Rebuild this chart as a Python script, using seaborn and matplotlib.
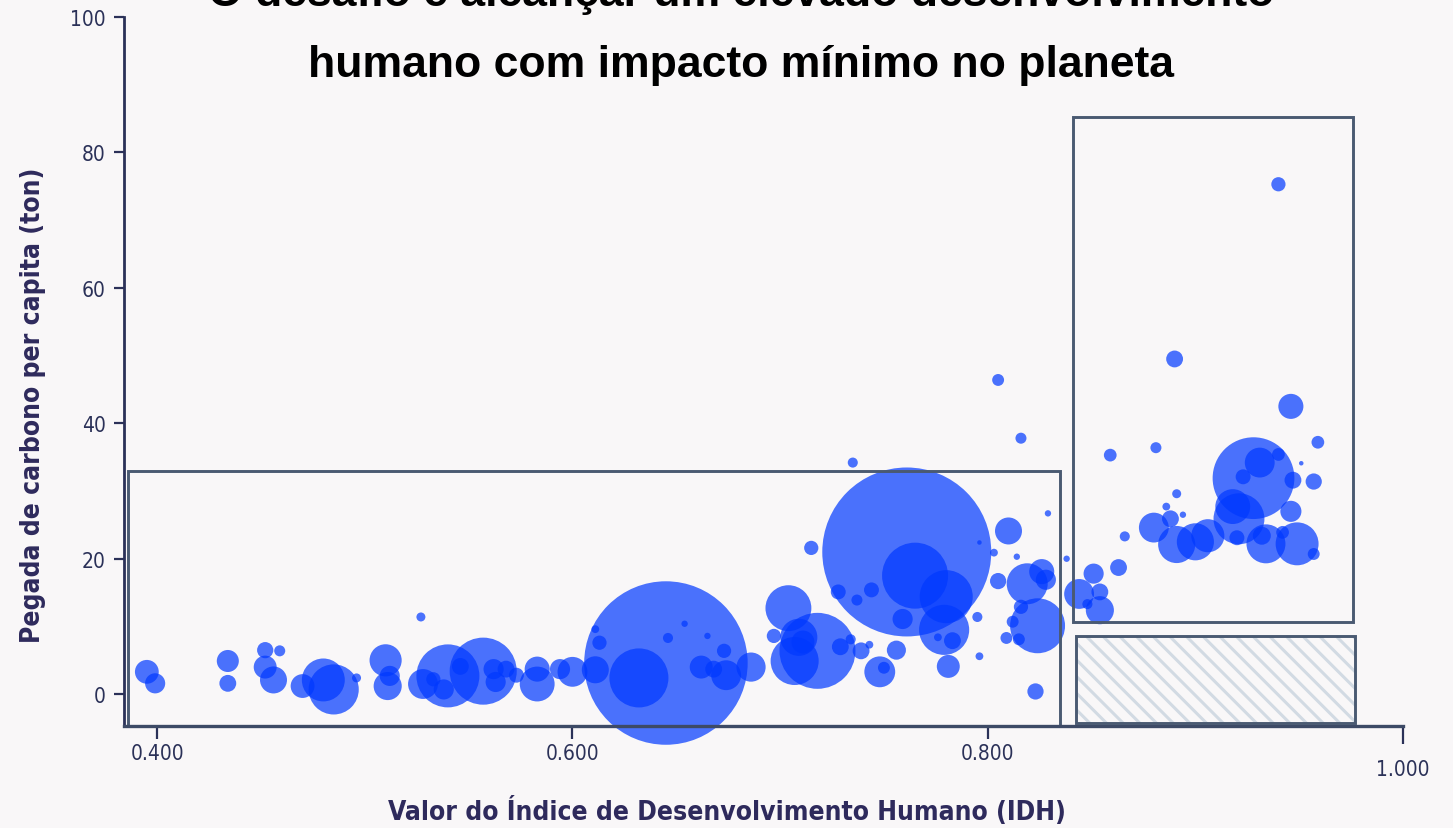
import matplotlib
matplotlib.use("Agg")
import matplotlib.pyplot as plt
import matplotlib.patches as mpatches
from matplotlib.transforms import ScaledTranslation
import seaborn as sns
import pandas as pd

# valores: IDH, pegada de carbono per capita (ton), população (milhões)
idh = [0.395, 0.399, 0.434, 0.434, 0.452, 0.459, 0.452, 0.456, 0.470, 0.480,
       0.485, 0.496, 0.510, 0.511, 0.512, 0.527, 0.528, 0.533, 0.538, 0.540,
       0.546, 0.557, 0.562, 0.568, 0.563, 0.573, 0.583, 0.583, 0.594, 0.600,
       0.611, 0.613, 0.611, 0.645, 0.632, 0.646, 0.654, 0.665, 0.662, 0.668,
       0.673, 0.674, 0.686, 0.697, 0.704, 0.707, 0.709, 0.718, 0.715, 0.711,
       0.729, 0.734, 0.739, 0.743, 0.748, 0.750, 0.756, 0.735, 0.728, 0.737,
       0.744, 0.761, 0.765, 0.780, 0.779, 0.759, 0.783, 0.776, 0.781, 0.795,
       0.796, 0.796, 0.805, 0.816, 0.829, 0.810, 0.803, 0.814, 0.805, 0.819,
       0.826, 0.828, 0.824, 0.816, 0.812, 0.809, 0.815, 0.823, 0.838, 0.844,
       0.851, 0.854, 0.854, 0.848, 0.863, 0.866, 0.859, 0.881, 0.880, 0.888,
       0.886, 0.891, 0.894, 0.891, 0.900, 0.906, 0.918, 0.921, 0.920, 0.934,
       0.932, 0.942, 0.949, 0.957, 0.928, 0.931, 0.940, 0.923, 0.946, 0.959,
       0.957, 0.951, 0.947, 0.946, 0.940, 0.890]
pegada = [3.3, 1.6, 4.9, 1.6, 6.5, 6.4, 4.0, 2.1, 1.2, 2.1,
          0.7, 2.4, 5.0, 1.2, 2.7, 11.4, 1.5, 2.2, 0.7, 2.7,
          4.1, 3.4, 3.7, 3.7, 1.8, 2.8, 1.5, 3.7, 3.7, 3.3,
          9.6, 7.6, 3.6, 4.6, 2.4, 8.3, 10.4, 8.6, 4.0, 3.7,
          6.4, 2.8, 4.0, 8.6, 12.7, 4.9, 8.4, 6.4, 21.6, 7.7,
          7.0, 8.1, 6.4, 7.3, 3.3, 3.9, 6.5, 34.2, 15.1, 13.9,
          15.4, 21.0, 17.5, 14.4, 9.5, 11.1, 7.9, 8.4, 4.1, 11.4,
          5.6, 22.4, 46.4, 37.8, 26.7, 24.1, 20.9, 20.3, 16.7, 16.3,
          18.1, 16.9, 10.1, 12.9, 10.7, 8.3, 8.1, 0.4, 20.0, 14.8,
          17.8, 15.1, 12.4, 13.3, 18.7, 23.3, 35.3, 36.4, 24.6, 25.9,
          27.7, 29.6, 26.5, 22.1, 22.5, 23.4, 27.7, 25.9, 23.1, 22.2,
          23.4, 23.9, 22.2, 20.7, 31.9, 34.2, 35.4, 32.1, 42.5, 37.2,
          31.4, 34.1, 31.6, 27.0, 75.3, 49.5]
populacao = [28, 20, 24, 14, 13, 6, 26, 36, 28, 91,
             124, 4, 51, 39, 20, 4, 44, 10, 20, 196,
             14, 222, 20, 14, 20, 11, 60, 31, 20, 44,
             3, 10, 36, 1320, 172, 5, 2, 2, 26, 14,
             10, 44, 42, 10, 104, 114, 68, 285, 10, 26,
             14, 5, 14, 3, 47, 7, 18, 5, 11, 6,
             11, 1410, 215, 139, 124, 20, 14, 3, 26, 5,
             3, 1, 7, 6, 2, 36, 3, 2, 13, 83,
             31, 20, 149, 10, 7, 7, 7, 13, 2, 44,
             20, 14, 39, 5, 14, 5, 8, 6, 44, 14,
             3, 4, 2, 68, 68, 54, 60, 128, 11, 75,
             16, 8, 91, 7, 330, 44, 8, 11, 31, 8,
             13, 1, 14, 22, 10, 14]

df = pd.DataFrame({"idh": idh, "pegada": pegada, "pop": populacao})

bg = "#f9f7f8"
navy = "#2b3158"
slate = "#4a5a72"

fig = plt.figure(figsize=(14.53, 8.29), dpi=100, facecolor=bg)
ax = fig.add_axes([124 / 1453, 1 - 727 / 829, (1403 - 124) / 1453, (727 - 18) / 829])
ax.set_facecolor(bg)

sns.scatterplot(data=df, x="idh", y="pegada", size="pop", sizes=(0, 14800),
                size_norm=(0, 1410), color="#0038ff", alpha=0.7, linewidth=0,
                legend=False, ax=ax)
ax.collections[0].set_clip_on(False)

ax.set_xlim(0.384, 1.0)
ax.set_ylim(-4.7, 100)

# caixas de destaque
ax.add_patch(mpatches.Rectangle((0.3858, -4.7), 0.835 - 0.3858, 33.0 + 4.7,
                                fill=False, edgecolor=slate, lw=2.1, zorder=5, clip_on=False))
ax.add_patch(mpatches.Rectangle((0.841, 10.7), 0.976 - 0.841, 85.2 - 10.7,
                                fill=False, edgecolor=slate, lw=2.1, zorder=5, clip_on=False))
plt.rcParams["hatch.linewidth"] = 2.2
ax.add_patch(mpatches.Rectangle((0.8425, -4.3), 0.977 - 0.8425, 8.6 + 4.3,
                                fill=False, hatch="\\\\", edgecolor="#d2dae3", lw=0, zorder=4))
ax.add_patch(mpatches.Rectangle((0.8425, -4.3), 0.977 - 0.8425, 8.6 + 4.3,
                                fill=False, edgecolor=slate, lw=2.1, zorder=5))

# eixos
for s in ["top", "right"]:
    ax.spines[s].set_visible(False)
ax.spines["left"].set_color(navy)
ax.spines["left"].set_linewidth(2.0)
ax.spines["bottom"].set_color("#3d4a66")
ax.spines["bottom"].set_linewidth(2.4)
ax.spines["left"].set_zorder(6)
ax.spines["bottom"].set_zorder(6)

ax.set_xticks([0.4, 0.6, 0.8, 1.0])
ax.set_xticklabels(["0.400", "0.600", "0.800", "1.000"])
ax.set_yticks([0, 20, 40, 60, 80, 100])
ax.tick_params(axis="y", length=7, width=1.6, color=navy, labelcolor=navy,
               labelsize=15, pad=6)
ax.tick_params(axis="x", length=9, width=1.6, color=navy, labelcolor=navy,
               labelsize=15, pad=3)
for lbl in ax.get_xticklabels() + ax.get_yticklabels():
    lbl.set_family("DejaVu Sans")
    lbl.set_fontstretch("condensed")
last = ax.xaxis.get_major_ticks()[-1]
last.tick1line.set_markersize(13)
last.label1.set_transform(last.label1.get_transform() +
                          ScaledTranslation(0, -0.16, fig.dpi_scale_trans))
ax.set_xlabel("")
ax.set_ylabel("")

fig.text(727 / 1453, 1 - 812 / 829, "Valor do Índice de Desenvolvimento Humano (IDH)",
         ha="center", va="center", fontsize=19, fontweight="bold", color="#2e2a5c",
         family="DejaVu Sans", fontstretch="condensed")
fig.text(33 / 1453, 1 - 405 / 829, "Pegada de carbono per capita (ton)",
         ha="center", va="center", rotation=90, fontsize=19, fontweight="bold",
         color="#2e2a5c", family="DejaVu Sans", fontstretch="condensed")

fig.text(0.510, 1 - 65 / 829, "humano com impacto mínimo no planeta",
         ha="center", va="center", fontsize=32, fontweight="bold", color="black",
         family=["Liberation Sans", "DejaVu Sans"])
fig.text(0.510, 1 + 6 / 829, "O desafio é alcançar um elevado desenvolvimento",
         ha="center", va="center", fontsize=32, fontweight="bold", color="black",
         family=["Liberation Sans", "DejaVu Sans"])

fig.savefig("out.png", dpi=100, facecolor=bg)
